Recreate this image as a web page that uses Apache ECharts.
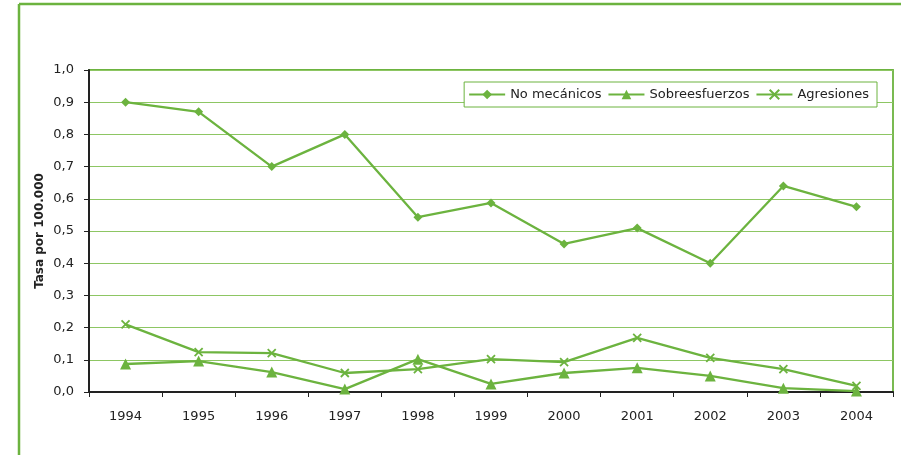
<!DOCTYPE html>
<html>
<head>
<meta charset="utf-8">
<script src="https://cdn.jsdelivr.net/npm/echarts@6/dist/echarts.min.js"></script>
<style>
  html, body { margin: 0; padding: 0; background: #fff; }
  #chart { width: 901px; height: 455px; }
</style>
</head>
<body>
<div id="chart"></div>
<script>
const years = ["1994", "1995", "1996", "1997", "1998", "1999", "2000", "2001", "2002", "2003", "2004"];
const noMecanicos = [0.90, 0.87, 0.70, 0.80, 0.543, 0.587, 0.46, 0.509, 0.40, 0.64, 0.575];
const sobreesfuerzos = [0.087, 0.096, 0.062, 0.009, 0.102, 0.025, 0.059, 0.075, 0.05, 0.012, 0.003];
const agresiones = [0.21, 0.124, 0.121, 0.059, 0.071, 0.102, 0.093, 0.168, 0.106, 0.071, 0.019];

const GREEN = "#6cb33f";
const GRID_GREEN = "#8dc663";
const FONT = "DejaVu Sans";

const chart = echarts.init(document.getElementById("chart"));

const mkSeries = (name, data, symbol, size, extra) => ({
  name: name,
  type: "line",
  data: data,
  symbol: symbol,
  symbolSize: size,
  lineStyle: { color: GREEN, width: 2.3 },
  itemStyle: Object.assign({ color: GREEN }, extra || {}),
  emphasis: { disabled: true },
  z: 3
});

chart.setOption({
  animation: false,
  textStyle: { fontFamily: FONT },
  grid: {
    left: 89, right: 8, top: 70, bottom: 63,
    show: true, borderColor: GREEN, borderWidth: 1.8, backgroundColor: "transparent"
  },
  legend: {
    right: 24, top: 82,
    padding: [6, 8, 6, 4],
    itemGap: 6,
    itemWidth: 36, itemHeight: 12,
    borderColor: GREEN, borderWidth: 1,
    backgroundColor: "#fff",
    textStyle: { fontFamily: FONT, fontSize: 13, color: "#222" },
    data: ["No mecánicos", "Sobreesfuerzos", "Agresiones"]
  },
  xAxis: {
    type: "category",
    data: years,
    boundaryGap: true,
    axisLine: { lineStyle: { color: "#222", width: 2 } },
    axisTick: { show: true, length: 5, lineStyle: { color: "#222" } },
    axisLabel: { color: "#222", fontSize: 13, margin: 18, fontFamily: FONT }
  },
  yAxis: {
    type: "value",
    min: 0, max: 1, interval: 0.1,
    name: "Tasa por 100.000",
    nameLocation: "middle",
    nameGap: 43,
    nameMoveOverlap: false,
    nameTextStyle: { fontWeight: "bold", fontSize: 12, color: "#222", fontFamily: FONT },
    axisLine: { show: true, lineStyle: { color: "#222", width: 2 } },
    axisTick: { show: true, length: 5, lineStyle: { color: "#222" } },
    axisLabel: {
      color: "#222", fontSize: 13, margin: 15, fontFamily: FONT,
      formatter: v => v.toFixed(1).replace(".", ",")
    },
    splitLine: { lineStyle: { color: GRID_GREEN, width: 1 } }
  },
  graphic: [
    { type: "line", shape: { x1: 19, y1: 4, x2: 901, y2: 4 }, style: { stroke: GREEN, lineWidth: 2.5 } },
    { type: "line", shape: { x1: 19, y1: 4, x2: 19, y2: 455 }, style: { stroke: GREEN, lineWidth: 2.5 } }
  ],
  series: [
    mkSeries("No mecánicos", noMecanicos, "diamond", 9),
    mkSeries("Sobreesfuerzos", sobreesfuerzos, "triangle", 11),
    mkSeries("Agresiones", agresiones, "path://M0,0L10,10M10,0L0,10", 8,
      { color: "transparent", borderColor: GREEN, borderWidth: 1.8 })
  ]
});
</script>
</body>
</html>
